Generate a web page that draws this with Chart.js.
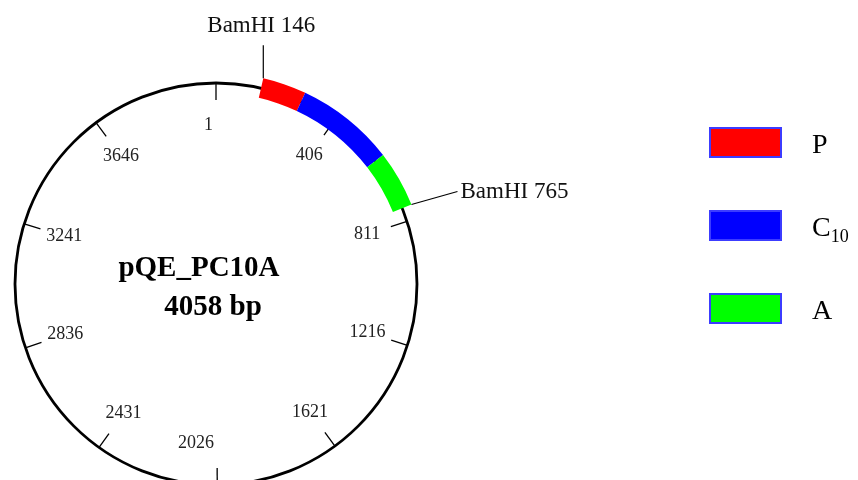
<!DOCTYPE html>
<html>
<head>
<meta charset="utf-8">
<script src="https://cdn.jsdelivr.net/npm/chart.js@4/dist/chart.umd.min.js"></script>
<style>
  html, body { margin: 0; padding: 0; background: #fff; overflow: hidden; width: 858px; height: 480px; }
  canvas { display: block; }
</style>
</head>
<body>
<canvas id="map" width="858" height="568"></canvas>
<script>
const plasmidName = "pQE_PC10A";
const plasmidLength = 4058;
const featureNames = ["P", "C", "A"];
const featureSubs = ["", "10", ""];
const featureStarts = [146, 282, 590];
const featureEnds = [282, 590, 765];
const featureColors = ["#ff0000", "#0000ff", "#00ff00"];
const tickValues = [1, 406, 811, 1216, 1621, 2026, 2431, 2836, 3241, 3646];
const siteNames = ["BamHI", "BamHI"];
const sitePositions = [146, 765];

// doughnut segments: transparent gaps + the coloured features
const segValues = [];
const segColors = [];
let cursor = 0;
featureStarts.forEach((s, i) => {
  if (s > cursor) {
    segValues.push(s - cursor);
    segColors.push("rgba(0,0,0,0)");
  }
  segValues.push(featureEnds[i] - s);
  segColors.push(featureColors[i]);
  cursor = featureEnds[i];
});
segValues.push(plasmidLength - cursor);
segColors.push("rgba(0,0,0,0)");

const SERIF = '"Liberation Serif", "Times New Roman", serif';

function angleOf(pos) {
  return (pos / plasmidLength) * Math.PI * 2;
}
function pointAt(cx, cy, r, a) {
  return { x: cx + r * Math.sin(a), y: cy - r * Math.cos(a) };
}

const mapPlugin = {
  id: "plasmidMap",
  beforeDatasetsDraw(chart) {
    const ctx = chart.ctx;
    const arc = chart.getDatasetMeta(0).data[0];
    const cx = arc.x, cy = arc.y;
    const r = (arc.outerRadius + arc.innerRadius) / 2;
    ctx.save();
    // backbone
    ctx.strokeStyle = "#000";
    ctx.lineWidth = 2.8;
    ctx.beginPath();
    ctx.arc(cx, cy, r, 0, Math.PI * 2);
    ctx.stroke();
    // ticks + labels
    ctx.lineWidth = 1.3;
    ctx.font = "18px " + SERIF;
    ctx.fillStyle = "#222";
    ctx.textAlign = "center";
    ctx.textBaseline = "middle";
    tickValues.forEach((v) => {
      const a = angleOf(v - 1);
      const p1 = pointAt(cx, cy, r, a);
      const p2 = pointAt(cx, cy, r - 17, a);
      ctx.beginPath();
      ctx.moveTo(p1.x, p1.y);
      ctx.lineTo(p2.x, p2.y);
      ctx.stroke();
      const lp = pointAt(cx, cy, r - 42, a);
      let lx = lp.x;
      if (Math.abs(Math.sin(a)) < 0.2) {
        lx -= ctx.measureText(String(v)).width / 2 + 3;
      }
      ctx.fillText(String(v), lx, lp.y);
    });
    ctx.restore();
  },
  afterDatasetsDraw(chart) {
    const ctx = chart.ctx;
    const arc = chart.getDatasetMeta(0).data[0];
    const cx = arc.x, cy = arc.y;
    const rOut = arc.outerRadius;
    ctx.save();
    ctx.strokeStyle = "#000";
    ctx.fillStyle = "#111";
    ctx.lineWidth = 1.2;
    ctx.font = "23px " + SERIF;
    // restriction sites
    sitePositions.forEach((pos, i) => {
      const a = angleOf(pos);
      const p1 = pointAt(cx, cy, rOut, a);
      const label = siteNames[i] + " " + pos;
      if (a < Math.PI / 6) {
        ctx.beginPath();
        ctx.moveTo(p1.x, p1.y);
        ctx.lineTo(p1.x, p1.y - 33);
        ctx.stroke();
        ctx.textAlign = "center";
        ctx.textBaseline = "alphabetic";
        ctx.fillText(label, p1.x - 2, p1.y - 46);
      } else {
        const p2 = { x: p1.x + 46, y: p1.y - 13 };
        ctx.beginPath();
        ctx.moveTo(p1.x, p1.y);
        ctx.lineTo(p2.x, p2.y);
        ctx.stroke();
        ctx.textAlign = "left";
        ctx.textBaseline = "middle";
        ctx.fillText(label, p2.x + 3, p2.y);
      }
    });
    // centre title
    ctx.font = "bold 29px " + SERIF;
    ctx.textAlign = "center";
    ctx.textBaseline = "alphabetic";
    ctx.fillStyle = "#000";
    ctx.fillText(plasmidName, cx - 17, cy - 8);
    ctx.fillText(plasmidLength + " bp", cx - 3, cy + 31);
    // legend
    const legendX = 709, legendTop = 127, legendGap = 83, boxW = 73, boxH = 31;
    featureNames.forEach((name, i) => {
      const y = legendTop + i * legendGap;
      ctx.fillStyle = featureColors[i];
      ctx.fillRect(legendX, y, boxW, boxH);
      ctx.strokeStyle = "#3c3cff";
      ctx.lineWidth = 2;
      ctx.strokeRect(legendX + 1, y + 1, boxW - 2, boxH - 2);
      ctx.fillStyle = "#000";
      ctx.textAlign = "left";
      ctx.textBaseline = "alphabetic";
      ctx.font = "28px " + SERIF;
      const ty = y + boxH / 2 + 10;
      ctx.fillText(name, legendX + 103, ty);
      if (featureSubs[i]) {
        const w = ctx.measureText(name).width;
        ctx.font = "18px " + SERIF;
        ctx.fillText(featureSubs[i], legendX + 103 + w, ty + 6);
      }
    });
    ctx.restore();
  },
};

new Chart(document.getElementById("map"), {
  type: "doughnut",
  data: {
    labels: segValues.map((_, i) => "seg" + i),
    datasets: [{
      data: segValues,
      backgroundColor: segColors,
      borderWidth: 0,
      hoverOffset: 0,
    }],
  },
  options: {
    responsive: false,
    animation: false,
    events: [],
    radius: 211,
    cutout: 191,
    rotation: 0,
    layout: { padding: { left: 5, top: 73, right: 431, bottom: 73 } },
    plugins: {
      legend: { display: false },
      tooltip: { enabled: false },
    },
  },
  plugins: [mapPlugin],
});
</script>
</body>
</html>
